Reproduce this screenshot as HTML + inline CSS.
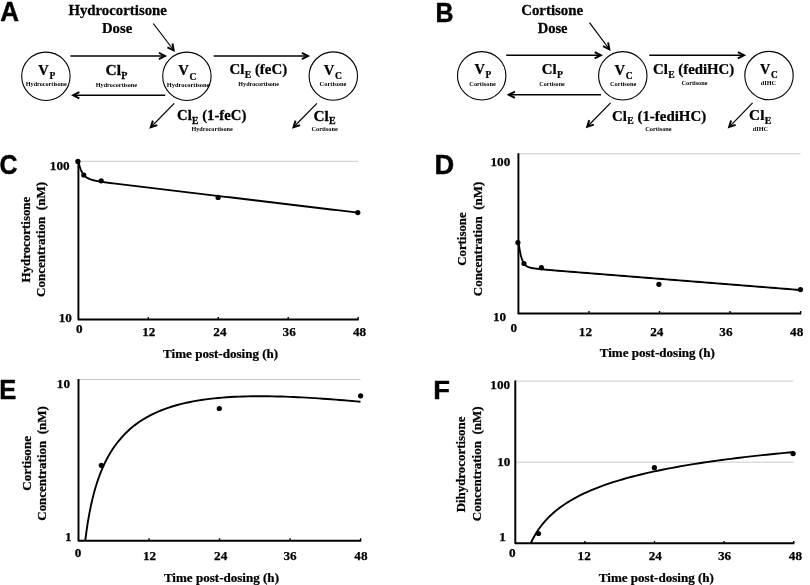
<!DOCTYPE html>
<html><head><meta charset="utf-8"><style>
html,body{margin:0;padding:0;background:#fff;}
svg{display:block;filter:grayscale(1);}
text{font-family:"Liberation Serif",serif;font-weight:bold;fill:#000;white-space:pre;stroke:#000;stroke-width:0.25px;}
</style></head><body>
<svg width="810" height="585" viewBox="0 0 810 585">
<rect width="810" height="585" fill="#fff"/>
<g transform="translate(0.35,20.77) scale(0.9659,1)"><text x="0" y="0" font-size="26.91" style="font-family:'Liberation Sans',sans-serif;stroke-width:0.45px;stroke-linejoin:round">A</text></g>
<g transform="translate(68.38,15.3) scale(1.0601,1)"><text x="0" y="0" font-size="14">Hydrocortisone</text></g>
<g transform="translate(101.94,32.9) scale(1.0528,1)"><text x="0" y="0" font-size="14">Dose</text></g>
<line x1="153.3" y1="23.5" x2="173.49" y2="50.01" stroke="#000" stroke-width="1.2"/>
<polygon points="167.03,48.14 175,52 173.4,43.29 171.53,43.64 172.45,48.65 167.86,46.43" fill="#000"/>
<circle cx="45.9" cy="76.3" r="24.2" fill="none" stroke="#000" stroke-width="1.1"/>
<circle cx="186.9" cy="76.3" r="24.2" fill="none" stroke="#000" stroke-width="1.1"/>
<circle cx="333.3" cy="76.1" r="24.2" fill="none" stroke="#000" stroke-width="1.1"/>
<line x1="70.4" y1="55.9" x2="164.7" y2="55.9" stroke="#000" stroke-width="1.45"/>
<polygon points="159.3,59.9 167.2,55.9 159.3,51.9 158.44,53.6 162.99,55.9 158.44,58.2" fill="#000"/>
<line x1="165.2" y1="95.3" x2="73.5" y2="95.3" stroke="#000" stroke-width="1.45"/>
<polygon points="78.9,91.3 71,95.3 78.9,99.3 79.76,97.6 75.21,95.3 79.76,93" fill="#000"/>
<line x1="213.7" y1="56" x2="307.7" y2="56" stroke="#000" stroke-width="1.45"/>
<polygon points="302.3,60 310.2,56 302.3,52 301.44,53.7 305.99,56 301.44,58.3" fill="#000"/>
<line x1="174.2" y1="103.3" x2="151.05" y2="127.01" stroke="#000" stroke-width="1.2"/>
<polygon points="151.96,120.35 149.3,128.8 157.68,125.94 157.07,124.14 152.24,125.79 153.77,120.92" fill="#000"/>
<line x1="316.9" y1="103.3" x2="293.75" y2="127.01" stroke="#000" stroke-width="1.2"/>
<polygon points="294.66,120.35 292,128.8 300.38,125.94 299.77,124.14 294.94,125.79 296.47,120.92" fill="#000"/>
<g transform="translate(38.35,74.7) scale(1.0170,1)"><text x="0" y="0" font-size="14.3">V</text><text x="10.93" y="4.4" font-size="9.3">P</text></g>
<g transform="translate(25.81,86) scale(0.9352,1)"><text x="0" y="0" font-size="6.6" style="stroke-width:0">Hydrocortisone</text></g>
<g transform="translate(105.46,75) scale(1.0846,1)"><text x="0" y="0" font-size="14.3">Cl</text><text x="14.6" y="3.7" font-size="9.3">P</text></g>
<g transform="translate(95.71,86.8) scale(0.9444,1)"><text x="0" y="0" font-size="6.6" style="stroke-width:0">Hydrocortisone</text></g>
<g transform="translate(178.25,74.9) scale(1.0294,1)"><text x="0" y="0" font-size="14.3">V</text><text x="10.93" y="4.7" font-size="9.3">C</text></g>
<g transform="translate(166.7,86.8) scale(0.9742,1)"><text x="0" y="0" font-size="6.6" style="stroke-width:0">Hydrocortisone</text></g>
<g transform="translate(229.49,73.9) scale(1.0411,1)"><text x="0" y="0" font-size="14.3">Cl</text><text x="14.6" y="3.7" font-size="9.3">E</text><text x="24.4" y="0" font-size="14.3">(feC)</text></g>
<g transform="translate(238.31,85.8) scale(0.9283,1)"><text x="0" y="0" font-size="6.6" style="stroke-width:0">Hydrocortisone</text></g>
<g transform="translate(323.75,74.5) scale(1.0294,1)"><text x="0" y="0" font-size="14.3">V</text><text x="10.93" y="4.4" font-size="9.3">C</text></g>
<g transform="translate(319.59,86.2) scale(0.9768,1)"><text x="0" y="0" font-size="6.6" style="stroke-width:0">Cortisone</text></g>
<g transform="translate(177,120.1) scale(1.0321,1)"><text x="0" y="0" font-size="14.3">Cl</text><text x="14.6" y="3.7" font-size="9.3">E</text><text x="24.4" y="0" font-size="14.3">(1-feC)</text></g>
<g transform="translate(191.41,131.2) scale(0.9444,1)"><text x="0" y="0" font-size="6.6" style="stroke-width:0">Hydrocortisone</text></g>
<g transform="translate(313.47,120.5) scale(1.0679,1)"><text x="0" y="0" font-size="14.3">Cl</text><text x="14.6" y="3.7" font-size="9.3">E</text></g>
<g transform="translate(311.4,131.2) scale(0.9620,1)"><text x="0" y="0" font-size="6.6" style="stroke-width:0">Cortisone</text></g>
<g transform="translate(435.51,21.77) scale(0.9253,1)"><text x="0" y="0" font-size="26.91" style="font-family:'Liberation Sans',sans-serif;stroke-width:0.45px;stroke-linejoin:round">B</text></g>
<g transform="translate(521.19,15.3) scale(1.0623,1)"><text x="0" y="0" font-size="14">Cortisone</text></g>
<g transform="translate(537.64,32.8) scale(1.0422,1)"><text x="0" y="0" font-size="14">Dose</text></g>
<line x1="589.5" y1="22.7" x2="609.11" y2="49" stroke="#000" stroke-width="1.2"/>
<polygon points="602.67,47.06 610.6,51 609.08,42.28 607.21,42.6 608.09,47.63 603.52,45.36" fill="#000"/>
<circle cx="481.7" cy="75.8" r="24.2" fill="none" stroke="#000" stroke-width="1.1"/>
<circle cx="622.8" cy="75.8" r="24.2" fill="none" stroke="#000" stroke-width="1.1"/>
<circle cx="769" cy="75.6" r="24.2" fill="none" stroke="#000" stroke-width="1.1"/>
<line x1="506.2" y1="55.3" x2="600.5" y2="55.3" stroke="#000" stroke-width="1.45"/>
<polygon points="595.1,59.3 603,55.3 595.1,51.3 594.24,53 598.79,55.3 594.24,57.6" fill="#000"/>
<line x1="601" y1="94.7" x2="509.1" y2="94.7" stroke="#000" stroke-width="1.45"/>
<polygon points="514.5,90.7 506.6,94.7 514.5,98.7 515.36,97 510.81,94.7 515.36,92.4" fill="#000"/>
<line x1="649.3" y1="55.3" x2="743.7" y2="55.3" stroke="#000" stroke-width="1.45"/>
<polygon points="738.3,59.3 746.2,55.3 738.3,51.3 737.44,53 741.99,55.3 737.44,57.6" fill="#000"/>
<line x1="610.6" y1="102.8" x2="587.45" y2="126.51" stroke="#000" stroke-width="1.2"/>
<polygon points="588.36,119.85 585.7,128.3 594.08,125.44 593.47,123.64 588.64,125.29 590.17,120.42" fill="#000"/>
<line x1="752.6" y1="102.8" x2="729.34" y2="126.8" stroke="#000" stroke-width="1.2"/>
<polygon points="730.22,120.14 727.6,128.6 735.97,125.71 735.35,123.91 730.53,125.58 732.04,120.71" fill="#000"/>
<g transform="translate(474.46,74) scale(1.0108,1)"><text x="0" y="0" font-size="14.3">V</text><text x="10.93" y="3.7" font-size="9.3">P</text></g>
<g transform="translate(469.3,85.6) scale(0.9620,1)"><text x="0" y="0" font-size="6.6" style="stroke-width:0">Cortisone</text></g>
<g transform="translate(541.79,74) scale(1.0433,1)"><text x="0" y="0" font-size="14.3">Cl</text><text x="14.6" y="3.7" font-size="9.3">P</text></g>
<g transform="translate(539.21,86.2) scale(0.9324,1)"><text x="0" y="0" font-size="6.6" style="stroke-width:0">Cortisone</text></g>
<g transform="translate(614.55,74.6) scale(1.0294,1)"><text x="0" y="0" font-size="14.3">V</text><text x="10.93" y="4.5" font-size="9.3">C</text></g>
<g transform="translate(609.9,86.2) scale(0.9620,1)"><text x="0" y="0" font-size="6.6" style="stroke-width:0">Cortisone</text></g>
<g transform="translate(653,73.8) scale(1.0371,1)"><text x="0" y="0" font-size="14.3">Cl</text><text x="14.6" y="3.7" font-size="9.3">E</text><text x="24.4" y="0" font-size="14.3">(fediHC)</text></g>
<g transform="translate(681.61,84.6) scale(0.9398,1)"><text x="0" y="0" font-size="6.6" style="stroke-width:0">Cortisone</text></g>
<g transform="translate(760.06,74) scale(0.9937,1)"><text x="0" y="0" font-size="14.3">V</text><text x="10.93" y="3.7" font-size="9.3">C</text></g>
<g transform="translate(760.75,85.4) scale(0.9494,1)"><text x="0" y="0" font-size="6.6" style="stroke-width:0">dIHC</text></g>
<g transform="translate(611.99,120.7) scale(1.0434,1)"><text x="0" y="0" font-size="14.3">Cl</text><text x="14.6" y="3.7" font-size="9.3">E</text><text x="24.4" y="0" font-size="14.3">(1-fediHC)</text></g>
<g transform="translate(645.3,131.2) scale(0.9583,1)"><text x="0" y="0" font-size="6.6" style="stroke-width:0">Cortisone</text></g>
<g transform="translate(749.07,120) scale(1.0730,1)"><text x="0" y="0" font-size="14.3">Cl</text><text x="14.6" y="3.7" font-size="9.3">E</text></g>
<g transform="translate(752.75,131.1) scale(0.9429,1)"><text x="0" y="0" font-size="6.6" style="stroke-width:0">dIHC</text></g>
<g transform="translate(-0.57,173.78) scale(0.9056,1)"><text x="0" y="0" font-size="27.56" style="font-family:'Liberation Sans',sans-serif;stroke-width:0.45px;stroke-linejoin:round">C</text></g>
<line x1="78.4" y1="161.3" x2="358.1" y2="161.3" stroke="#cbcbcb" stroke-width="1"/>
<path d="M78.4,160.8 L78.4,319.5 L358.7,319.5" fill="none" stroke="#000" stroke-width="1.95" stroke-linejoin="round"/>
<line x1="148.33" y1="317.1" x2="148.33" y2="319.5" stroke="#000" stroke-width="1.4"/>
<line x1="218.25" y1="317.1" x2="218.25" y2="319.5" stroke="#000" stroke-width="1.4"/>
<line x1="288.18" y1="317.1" x2="288.18" y2="319.5" stroke="#000" stroke-width="1.4"/>
<line x1="358.1" y1="317.1" x2="358.1" y2="319.5" stroke="#000" stroke-width="1.4"/>
<text x="49.8" y="169.6" font-size="13.2">100</text>
<text x="58.7" y="321.7" font-size="13.2">10</text>
<text x="75.9" y="332.7" font-size="13.2">0</text>
<text x="142.2" y="335.8" font-size="13.2">12</text>
<text x="213.3" y="335.8" font-size="13.2">24</text>
<text x="282.58" y="335.8" font-size="13.2">36</text>
<text x="353.03" y="335.8" font-size="13.2">48</text>
<g transform="translate(163.1,357.9) scale(1.0057,1)"><text x="0" y="0" font-size="13">Time post-dosing (h)</text></g>
<g transform="translate(30.3,282.49) rotate(-90) scale(0.9776,1)"><text x="0" y="0" font-size="13.2">Hydrocortisone</text></g>
<g transform="translate(45.4,297.02) rotate(-90) scale(0.9879,1)"><text x="0" y="0" font-size="13.2">Concentration  (nM)</text></g>
<path d="M78.4,161.27 L78.69,162.59 L78.99,163.82 L79.28,164.95 L79.58,166 L79.87,166.98 L80.16,167.88 L80.46,168.72 L80.75,169.49 L81.04,170.21 L81.34,170.88 L81.63,171.5 L81.93,172.08 L82.22,172.61 L82.51,173.11 L82.81,173.57 L83.1,174 L83.39,174.41 L83.69,174.78 L83.98,175.13 L84.28,175.46 L84.57,175.77 L84.86,176.06 L85.16,176.33 L85.45,176.58 L85.75,176.82 L86.04,177.05 L86.33,177.26 L86.63,177.46 L86.92,177.65 L87.21,177.83 L87.51,178 L87.8,178.16 L88.1,178.32 L88.39,178.47 L88.68,178.61 L88.98,178.74 L89.27,178.87 L89.56,178.99 L89.86,179.11 L90.15,179.22 L90.45,179.33 L90.74,179.44 L91.03,179.54 L91.33,179.63 L91.62,179.73 L91.91,179.82 L92.21,179.9 L92.5,179.99 L92.8,180.07 L93.09,180.15 L93.38,180.23 L93.68,180.3 L93.97,180.37 L94.27,180.45 L94.56,180.52 L94.85,180.58 L95.15,180.65 L95.44,180.71 L95.73,180.78 L96.03,180.84 L96.32,180.9 L96.62,180.96 L96.91,181.02 L97.2,181.07 L97.5,181.13 L97.79,181.18 L98.08,181.24 L98.38,181.29 L98.67,181.34 L98.97,181.39 L99.26,181.44 L99.55,181.49 L99.85,181.54 L100.14,181.59 L100.44,181.64 L100.73,181.69 L101.02,181.73 L101.32,181.78 L101.61,181.82 L101.9,181.87 L102.2,181.91 L102.49,181.96 L102.79,182 L103.08,182.05 L103.37,182.09 L103.67,182.13 L103.96,182.17 L104.25,182.22 L104.55,182.26 L104.84,182.3 L105.14,182.34 L105.43,182.38 L105.72,182.42 L106.02,182.46 L106.31,182.5 L106.61,182.54 L106.9,182.58 L107.19,182.62 L107.49,182.66 L107.78,182.7 L108.07,182.74 L108.37,182.78 L108.66,182.82 L108.96,182.85 L109.25,182.89 L109.54,182.93 L109.84,182.97 L110.13,183.01 L110.42,183.04 L110.72,183.08 L111.01,183.12 L111.31,183.16 L111.6,183.19 L111.89,183.23 L112.19,183.27 L112.48,183.31 L112.77,183.34 L113.07,183.38 L113.36,183.42 L113.36,183.42 L117.51,183.93 L121.66,184.43 L125.81,184.93 L129.95,185.43 L134.1,185.93 L138.25,186.42 L142.4,186.92 L146.55,187.41 L150.7,187.91 L154.84,188.4 L158.99,188.9 L163.14,189.39 L167.29,189.89 L171.44,190.38 L175.58,190.88 L179.73,191.37 L183.88,191.87 L188.03,192.36 L192.18,192.86 L196.32,193.35 L200.47,193.85 L204.62,194.34 L208.77,194.84 L212.92,195.33 L217.06,195.83 L221.21,196.32 L225.36,196.82 L229.51,197.31 L233.66,197.81 L237.81,198.3 L241.95,198.8 L246.1,199.29 L250.25,199.79 L254.4,200.28 L258.55,200.78 L262.69,201.27 L266.84,201.77 L270.99,202.26 L275.14,202.76 L279.29,203.25 L283.43,203.75 L287.58,204.24 L291.73,204.74 L295.88,205.23 L300.03,205.73 L304.17,206.22 L308.32,206.72 L312.47,207.21 L316.62,207.71 L320.77,208.2 L324.92,208.7 L329.06,209.19 L333.21,209.69 L337.36,210.18 L341.51,210.68 L345.66,211.17 L349.8,211.67 L353.95,212.16 L358.1,212.66" fill="none" stroke="#000" stroke-width="1.9" stroke-linejoin="round" stroke-linecap="butt"/>
<circle cx="77.9" cy="161.4" r="2.6" fill="#000"/>
<circle cx="83.8" cy="175" r="2.6" fill="#000"/>
<circle cx="101.2" cy="180.8" r="2.6" fill="#000"/>
<circle cx="218.1" cy="197.4" r="2.6" fill="#000"/>
<circle cx="357.8" cy="212.6" r="2.6" fill="#000"/>
<g transform="translate(434.45,173.78) scale(1.0113,1)"><text x="0" y="0" font-size="26.98" style="font-family:'Liberation Sans',sans-serif;stroke-width:0.45px;stroke-linejoin:round">D</text></g>
<line x1="518.4" y1="153.8" x2="800.6" y2="153.8" stroke="#cbcbcb" stroke-width="1"/>
<path d="M518.4,153.3 L518.4,313.4 L801.2,313.4" fill="none" stroke="#000" stroke-width="1.95" stroke-linejoin="round"/>
<line x1="588.95" y1="311" x2="588.95" y2="313.4" stroke="#000" stroke-width="1.4"/>
<line x1="659.5" y1="311" x2="659.5" y2="313.4" stroke="#000" stroke-width="1.4"/>
<line x1="730.05" y1="311" x2="730.05" y2="313.4" stroke="#000" stroke-width="1.4"/>
<line x1="800.6" y1="311" x2="800.6" y2="313.4" stroke="#000" stroke-width="1.4"/>
<text x="490.5" y="165.7" font-size="13.2">100</text>
<text x="493" y="320.8" font-size="13.2">10</text>
<text x="510.45" y="331.7" font-size="13.2">0</text>
<text x="578.8" y="335.5" font-size="13.2">12</text>
<text x="650.2" y="335.5" font-size="13.2">24</text>
<text x="719.33" y="335.5" font-size="13.2">36</text>
<text x="790.08" y="335.5" font-size="13.2">48</text>
<g transform="translate(599.7,357.1) scale(1.0057,1)"><text x="0" y="0" font-size="13">Time post-dosing (h)</text></g>
<g transform="translate(466.4,265.81) rotate(-90) scale(0.9731,1)"><text x="0" y="0" font-size="13.2">Cortisone</text></g>
<g transform="translate(481.8,296.22) rotate(-90) scale(0.9835,1)"><text x="0" y="0" font-size="13.2">Concentration  (nM)</text></g>
<path d="M518.4,241.33 L518.7,243.58 L518.99,245.66 L519.29,247.59 L519.59,249.37 L519.88,251 L520.18,252.5 L520.48,253.88 L520.77,255.14 L521.07,256.29 L521.36,257.34 L521.66,258.3 L521.96,259.18 L522.25,259.98 L522.55,260.71 L522.85,261.37 L523.14,261.97 L523.44,262.52 L523.74,263.02 L524.03,263.48 L524.33,263.89 L524.62,264.27 L524.92,264.62 L525.22,264.93 L525.51,265.22 L525.81,265.48 L526.11,265.72 L526.4,265.94 L526.7,266.14 L527,266.33 L527.29,266.5 L527.59,266.65 L527.89,266.8 L528.18,266.93 L528.48,267.05 L528.77,267.17 L529.07,267.28 L529.37,267.38 L529.66,267.47 L529.96,267.56 L530.26,267.64 L530.55,267.71 L530.85,267.79 L531.15,267.86 L531.44,267.92 L531.74,267.98 L532.04,268.04 L532.33,268.1 L532.63,268.15 L532.92,268.2 L533.22,268.25 L533.52,268.3 L533.81,268.35 L534.11,268.39 L534.41,268.43 L534.7,268.48 L535,268.52 L535.3,268.56 L535.59,268.6 L535.89,268.63 L536.19,268.67 L536.48,268.71 L536.78,268.74 L537.07,268.78 L537.37,268.81 L537.67,268.85 L537.96,268.88 L538.26,268.91 L538.56,268.94 L538.85,268.98 L539.15,269.01 L539.45,269.04 L539.74,269.07 L540.04,269.1 L540.34,269.13 L540.63,269.16 L540.93,269.19 L541.23,269.22 L541.52,269.25 L541.82,269.28 L542.11,269.31 L542.41,269.34 L542.71,269.36 L543,269.39 L543.3,269.42 L543.6,269.45 L543.89,269.48 L544.19,269.5 L544.49,269.53 L544.78,269.56 L545.08,269.59 L545.38,269.61 L545.67,269.64 L545.97,269.67 L546.26,269.69 L546.56,269.72 L546.86,269.75 L547.15,269.77 L547.45,269.8 L547.75,269.83 L548.04,269.85 L548.34,269.88 L548.64,269.9 L548.93,269.93 L549.23,269.96 L549.52,269.98 L549.82,270.01 L550.12,270.03 L550.41,270.06 L550.71,270.09 L551.01,270.11 L551.3,270.14 L551.6,270.16 L551.9,270.19 L552.19,270.21 L552.49,270.24 L552.79,270.26 L553.08,270.29 L553.38,270.31 L553.67,270.34 L553.67,270.34 L557.86,270.69 L562.05,271.03 L566.23,271.37 L570.42,271.71 L574.6,272.04 L578.79,272.38 L582.97,272.71 L587.16,273.05 L591.34,273.38 L595.53,273.71 L599.71,274.05 L603.9,274.38 L608.08,274.72 L612.27,275.05 L616.45,275.38 L620.64,275.72 L624.82,276.05 L629.01,276.38 L633.19,276.72 L637.38,277.05 L641.56,277.38 L645.75,277.72 L649.93,278.05 L654.12,278.38 L658.3,278.72 L662.49,279.05 L666.67,279.38 L670.86,279.72 L675.04,280.05 L679.23,280.38 L683.42,280.72 L687.6,281.05 L691.79,281.38 L695.97,281.72 L700.16,282.05 L704.34,282.38 L708.53,282.72 L712.71,283.05 L716.9,283.38 L721.08,283.72 L725.27,284.05 L729.45,284.38 L733.64,284.72 L737.82,285.05 L742.01,285.38 L746.19,285.72 L750.38,286.05 L754.56,286.38 L758.75,286.72 L762.93,287.05 L767.12,287.38 L771.3,287.72 L775.49,288.05 L779.67,288.38 L783.86,288.72 L788.04,289.05 L792.23,289.39 L796.41,289.72 L800.6,290.05" fill="none" stroke="#000" stroke-width="1.9" stroke-linejoin="round" stroke-linecap="butt"/>
<circle cx="517.9" cy="242.6" r="2.6" fill="#000"/>
<circle cx="524" cy="263.5" r="2.6" fill="#000"/>
<circle cx="541.4" cy="267.7" r="2.6" fill="#000"/>
<circle cx="658.9" cy="284.3" r="2.6" fill="#000"/>
<circle cx="800.5" cy="289.6" r="2.6" fill="#000"/>
<g transform="translate(-0.74,398.67) scale(0.9134,1)"><text x="0" y="0" font-size="28" style="font-family:'Liberation Sans',sans-serif;stroke-width:0.45px;stroke-linejoin:round">E</text></g>
<line x1="78.5" y1="379.5" x2="360.6" y2="379.5" stroke="#cbcbcb" stroke-width="1"/>
<path d="M78.5,379 L78.5,540.7 L361.2,540.7" fill="none" stroke="#000" stroke-width="1.95" stroke-linejoin="round"/>
<line x1="149.03" y1="538.3" x2="149.03" y2="540.7" stroke="#000" stroke-width="1.4"/>
<line x1="219.55" y1="538.3" x2="219.55" y2="540.7" stroke="#000" stroke-width="1.4"/>
<line x1="290.08" y1="538.3" x2="290.08" y2="540.7" stroke="#000" stroke-width="1.4"/>
<line x1="360.6" y1="538.3" x2="360.6" y2="540.7" stroke="#000" stroke-width="1.4"/>
<text x="56.8" y="388.4" font-size="13.2">10</text>
<text x="64.91" y="540.6" font-size="13.2">1</text>
<text x="74.65" y="556.6" font-size="13.2">0</text>
<text x="142.95" y="559.8" font-size="13.2">12</text>
<text x="214.05" y="559.8" font-size="13.2">24</text>
<text x="283.43" y="559.8" font-size="13.2">36</text>
<text x="354.33" y="559.8" font-size="13.2">48</text>
<g transform="translate(163.9,581.7) scale(1.0057,1)"><text x="0" y="0" font-size="13">Time post-dosing (h)</text></g>
<g transform="translate(31,490.73) rotate(-90) scale(0.9972,1)"><text x="0" y="0" font-size="13.2">Cortisone</text></g>
<g transform="translate(45.9,520.72) rotate(-90) scale(0.9818,1)"><text x="0" y="0" font-size="13.2">Concentration  (nM)</text></g>
<path d="M85.26,540.67 L85.62,537.76 L85.98,534.97 L86.34,532.31 L86.69,529.76 L87.05,527.31 L87.41,524.95 L87.77,522.68 L88.13,520.5 L88.49,518.39 L88.85,516.35 L89.2,514.38 L89.56,512.47 L89.92,510.62 L90.28,508.83 L90.64,507.09 L91,505.41 L91.35,503.77 L91.71,502.17 L92.07,500.62 L92.43,499.11 L92.79,497.64 L93.15,496.21 L93.5,494.81 L93.86,493.45 L94.22,492.12 L94.58,490.82 L94.94,489.56 L95.3,488.32 L95.65,487.1 L96.01,485.92 L96.37,484.76 L96.73,483.62 L97.09,482.51 L97.45,481.42 L97.81,480.36 L98.16,479.31 L98.52,478.29 L98.88,477.28 L99.24,476.3 L99.6,475.33 L99.96,474.38 L100.31,473.45 L100.67,472.54 L101.03,471.64 L101.39,470.76 L101.75,469.89 L102.11,469.04 L102.46,468.2 L102.82,467.38 L103.18,466.57 L103.54,465.78 L103.9,464.99 L104.26,464.22 L104.61,463.46 L104.97,462.72 L105.33,461.98 L105.69,461.26 L106.05,460.55 L106.41,459.85 L106.77,459.16 L107.12,458.48 L107.48,457.81 L107.84,457.15 L108.2,456.5 L108.56,455.86 L108.92,455.22 L109.27,454.6 L109.63,453.99 L109.99,453.38 L110.35,452.78 L110.71,452.19 L111.07,451.61 L111.42,451.04 L111.78,450.47 L112.14,449.91 L112.5,449.36 L112.86,448.82 L113.22,448.28 L113.57,447.75 L113.57,447.75 L117.76,442.03 L121.95,437.05 L126.13,432.68 L130.32,428.82 L134.5,425.38 L138.69,422.31 L142.87,419.56 L147.06,417.08 L151.24,414.85 L155.43,412.83 L159.61,411 L163.8,409.35 L167.98,407.85 L172.17,406.49 L176.35,405.25 L180.54,404.13 L184.72,403.12 L188.91,402.2 L193.09,401.38 L197.28,400.63 L201.46,399.97 L205.65,399.37 L209.83,398.84 L214.02,398.36 L218.2,397.95 L222.39,397.59 L226.57,397.27 L230.76,397.01 L234.94,396.78 L239.13,396.6 L243.32,396.45 L247.5,396.35 L251.69,396.27 L255.87,396.23 L260.06,396.21 L264.24,396.23 L268.43,396.27 L272.61,396.34 L276.8,396.43 L280.98,396.54 L285.17,396.67 L289.35,396.83 L293.54,397 L297.72,397.2 L301.91,397.41 L306.09,397.63 L310.28,397.87 L314.46,398.13 L318.65,398.4 L322.83,398.68 L327.02,398.98 L331.2,399.29 L335.39,399.61 L339.57,399.94 L343.76,400.29 L347.94,400.64 L352.13,401 L356.31,401.37 L360.5,401.75" fill="none" stroke="#000" stroke-width="1.9" stroke-linejoin="round" stroke-linecap="butt"/>
<circle cx="101.3" cy="465.3" r="2.6" fill="#000"/>
<circle cx="219.3" cy="408.5" r="2.6" fill="#000"/>
<circle cx="360.6" cy="395.8" r="2.6" fill="#000"/>
<g transform="translate(433.25,398.67) scale(1.0248,1)"><text x="0" y="0" font-size="26.69" style="font-family:'Liberation Sans',sans-serif;stroke-width:0.45px;stroke-linejoin:round">F</text></g>
<line x1="515.3" y1="381.1" x2="793.7" y2="381.1" stroke="#cbcbcb" stroke-width="1"/>
<line x1="515.3" y1="462.2" x2="793.7" y2="462.2" stroke="#cbcbcb" stroke-width="1"/>
<path d="M515.3,380.6 L515.3,543.3 L794.3,543.3" fill="none" stroke="#000" stroke-width="1.95" stroke-linejoin="round"/>
<line x1="584.9" y1="540.9" x2="584.9" y2="543.3" stroke="#000" stroke-width="1.4"/>
<line x1="654.5" y1="540.9" x2="654.5" y2="543.3" stroke="#000" stroke-width="1.4"/>
<line x1="724.1" y1="540.9" x2="724.1" y2="543.3" stroke="#000" stroke-width="1.4"/>
<line x1="793.7" y1="540.9" x2="793.7" y2="543.3" stroke="#000" stroke-width="1.4"/>
<text x="490.3" y="388.8" font-size="13.2">100</text>
<text x="497.19" y="466" font-size="13.2">10</text>
<text x="499.16" y="540.5" font-size="13.2">1</text>
<text x="509.1" y="556.9" font-size="13.2">0</text>
<text x="577.6" y="560" font-size="13.2">12</text>
<text x="648.65" y="560" font-size="13.2">24</text>
<text x="718.03" y="560" font-size="13.2">36</text>
<text x="788.83" y="560" font-size="13.2">48</text>
<g transform="translate(598.8,581.8) scale(1.0057,1)"><text x="0" y="0" font-size="13">Time post-dosing (h)</text></g>
<g transform="translate(465.4,512.33) rotate(-90) scale(0.9776,1)"><text x="0" y="0" font-size="13.2">Dihydrocortisone</text></g>
<g transform="translate(481,521.22) rotate(-90) scale(0.9861,1)"><text x="0" y="0" font-size="13.2">Concentration  (nM)</text></g>
<path d="M530.7,543.29 L531.43,541.75 L532.15,540.27 L532.88,538.85 L533.6,537.49 L534.33,536.18 L535.05,534.93 L535.78,533.71 L536.5,532.54 L537.23,531.41 L537.95,530.32 L538.68,529.26 L539.4,528.23 L540.12,527.23 L540.85,526.27 L541.57,525.33 L542.3,524.41 L543.02,523.52 L543.75,522.66 L544.47,521.81 L545.2,520.99 L545.92,520.18 L546.65,519.4 L547.37,518.64 L548.1,517.89 L548.82,517.16 L549.55,516.44 L550.27,515.74 L550.99,515.06 L551.72,514.38 L552.44,513.73 L553.17,513.08 L553.89,512.45 L554.62,511.83 L555.34,511.22 L556.07,510.63 L556.79,510.04 L557.52,509.46 L558.24,508.9 L558.97,508.34 L559.69,507.8 L560.41,507.26 L561.14,506.73 L561.86,506.21 L562.59,505.7 L563.31,505.2 L564.04,504.71 L564.76,504.22 L565.49,503.74 L566.21,503.27 L566.94,502.8 L567.66,502.34 L568.39,501.89 L569.11,501.44 L569.84,501.01 L570.56,500.57 L571.28,500.14 L572.01,499.72 L572.73,499.31 L573.46,498.9 L573.46,498.9 L577.95,496.47 L582.45,494.21 L586.94,492.12 L591.44,490.16 L595.93,488.32 L600.43,486.59 L604.92,484.96 L609.42,483.42 L613.91,481.95 L618.41,480.56 L622.9,479.23 L627.4,477.96 L631.89,476.75 L636.38,475.6 L640.88,474.48 L645.37,473.42 L649.87,472.39 L654.36,471.41 L658.86,470.46 L663.35,469.54 L667.85,468.66 L672.34,467.81 L676.84,466.98 L681.33,466.18 L685.83,465.41 L690.32,464.66 L694.82,463.93 L699.31,463.23 L703.81,462.55 L708.3,461.88 L712.79,461.24 L717.29,460.61 L721.78,460 L726.28,459.4 L730.77,458.83 L735.27,458.26 L739.76,457.71 L744.26,457.18 L748.75,456.66 L753.25,456.15 L757.74,455.65 L762.24,455.16 L766.73,454.69 L771.23,454.23 L775.72,453.77 L780.22,453.33 L784.71,452.9 L789.21,452.48 L793.7,452.06" fill="none" stroke="#000" stroke-width="1.9" stroke-linejoin="round" stroke-linecap="butt"/>
<circle cx="538.5" cy="533.5" r="2.6" fill="#000"/>
<circle cx="654.4" cy="467.7" r="2.6" fill="#000"/>
<circle cx="793.1" cy="453.6" r="2.6" fill="#000"/>
</svg>
</body></html>
